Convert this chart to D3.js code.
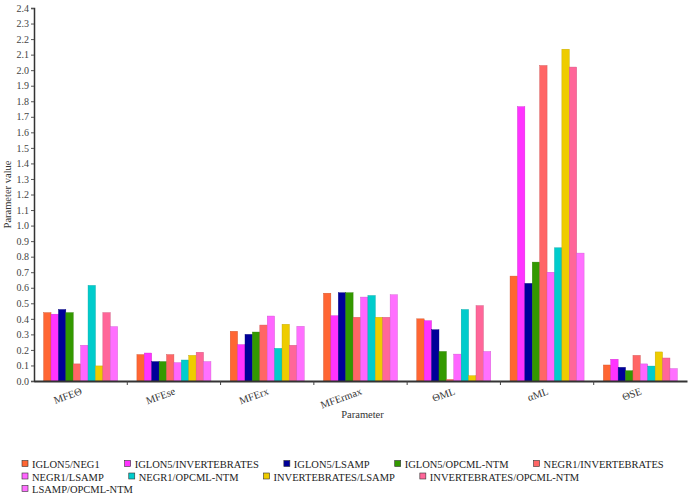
<!DOCTYPE html>
<html><head><meta charset="utf-8">
<script src="https://cdn.jsdelivr.net/npm/d3@7"></script>
<style>
body{margin:0;background:#fff;}
svg text{font-family:"Liberation Serif","Times New Roman",serif !important;}
</style></head>
<body><svg id="chart" width="689" height="498"></svg>
<script>
const categories = ["MFEΘ","MFEse","MFErx","MFErmax","ΘML","αML","ΘSE"];
const seriesNames = ["IGLON5/NEG1","IGLON5/INVERTEBRATES","IGLON5/LSAMP","IGLON5/OPCML-NTM","NEGR1/INVERTEBRATES","NEGR1/LSAMP","NEGR1/OPCML-NTM","INVERTEBRATES/LSAMP","INVERTEBRATES/OPCML-NTM","LSAMP/OPCML-NTM"];
const seriesColors = ["#FF6633","#FF33FF","#000099","#339900","#FF6666","#FF66FF","#00CCCC","#EECC00","#FF6699","#FF70FF"];
// values per series, one per category
const iglon5Neg1      = [0.44, 0.17, 0.32, 0.565, 0.40, 0.675, 0.103];
const iglon5Invert    = [0.43, 0.18, 0.234, 0.42, 0.388, 1.765, 0.14];
const iglon5Lsamp     = [0.46, 0.125, 0.30, 0.568, 0.33, 0.628, 0.088];
const iglon5Opcml     = [0.44, 0.125, 0.315, 0.568, 0.19, 0.765, 0.066];
const negr1Invert     = [0.11, 0.17, 0.36, 0.41, 0.01, 2.03, 0.165];
const negr1Lsamp      = [0.23, 0.118, 0.418, 0.54, 0.173, 0.70, 0.11];
const negr1Opcml      = [0.615, 0.135, 0.21, 0.55, 0.46, 0.857, 0.096];
const invertLsamp     = [0.097, 0.165, 0.365, 0.41, 0.034, 2.135, 0.187];
const invertOpcml     = [0.44, 0.185, 0.23, 0.41, 0.485, 2.02, 0.148];
const lsampOpcml      = [0.35, 0.125, 0.352, 0.555, 0.19, 0.823, 0.08];
const seriesValues = [iglon5Neg1, iglon5Invert, iglon5Lsamp, iglon5Opcml, negr1Invert, negr1Lsamp, negr1Opcml, invertLsamp, invertOpcml, lsampOpcml];
const yTicks = d3.range(0, 25).map(i => i / 10);

const FONT = "'Liberation Serif', 'Times New Roman', serif";
const svg = d3.select("#chart");
const pLeft = 34, pRight = 687, pTop = 8, pBottom = 381;

const x = d3.scaleBand().domain(categories).range([pLeft, pRight]).paddingInner(0).paddingOuter(0);
const xi = d3.scaleBand().domain(seriesNames).range([0, x.bandwidth()]).paddingInner(0).paddingOuter(1.3);
const y = d3.scaleLinear().domain([0, 2.4]).range([pBottom, pTop]);

// bars
seriesNames.forEach((s, si) => {
  svg.append("g").selectAll("rect").data(categories).join("rect")
    .attr("x", c => x(c) + xi(s))
    .attr("y", (c, ci) => y(seriesValues[si][ci]))
    .attr("width", xi.bandwidth())
    .attr("height", (c, ci) => y(0) - y(seriesValues[si][ci]))
    .attr("fill", seriesColors[si])
    .attr("stroke", d3.color(seriesColors[si]).darker(0.6))
    .attr("stroke-width", 0.4);
});

// y axis
const yAxis = svg.append("g").attr("transform", `translate(${pLeft},0)`)
  .call(d3.axisLeft(y).tickValues(yTicks).tickFormat(d3.format(".1f")).tickSize(3).tickPadding(2))
  .attr("font-family", FONT);
yAxis.select(".domain").attr("stroke", "#333").attr("stroke-width", 1.5);
yAxis.selectAll(".tick line").attr("stroke", "#555");
yAxis.selectAll(".tick text").attr("font-size", 10).attr("fill", "#444");

// x axis
const xAxis = svg.append("g").attr("transform", `translate(0,${pBottom})`)
  .call(d3.axisBottom(x).tickSize(0).tickFormat(""));
xAxis.select(".domain").attr("stroke", "#333").attr("stroke-width", 2);
// boundary ticks
svg.append("g").selectAll("line").data(categories.slice(1)).join("line")
  .attr("x1", c => x(c)).attr("x2", c => x(c))
  .attr("y1", pBottom).attr("y2", pBottom + 4)
  .attr("stroke", "#444").attr("stroke-width", 1);
// category labels, slanted
svg.append("g").attr("font-family", FONT).selectAll("text").data(categories).join("text")
  .attr("transform", c => `translate(${x(c) + x.bandwidth() / 2 + 2},${pBottom + 13}) rotate(-20)`)
  .attr("text-anchor", "end")
  .attr("font-size", 10.5)
  .attr("fill", "#333")
  .text(c => c);

// axis titles
svg.append("text").attr("font-family", FONT).attr("x", (pLeft + pRight) / 2 + 2).attr("y", 418)
  .attr("text-anchor", "middle").attr("font-size", 10.5).attr("fill", "#333").text("Parameter");
svg.append("text").attr("font-family", FONT).attr("transform", `translate(11,${(pTop + pBottom) / 2}) rotate(-90)`)
  .attr("text-anchor", "middle").attr("font-size", 10.5).attr("fill", "#333").text("Parameter value");

// legend (flow layout)
const legend = svg.append("g").attr("font-family", FONT);
let lx = 22, ly = 465;
const gap = 25, maxX = 680, rowH = 12.5;
seriesNames.forEach((s, i) => {
  const g = legend.append("g");
  g.append("rect").attr("x", 0).attr("y", -4.5).attr("width", 6).attr("height", 6)
    .attr("fill", seriesColors[i]).attr("stroke", "#333").attr("stroke-width", 0.6);
  const t = g.append("text").attr("x", 10).attr("y", 3).attr("font-size", 10.5).attr("fill", "#222").text(s);
  const w = 10 + t.node().getComputedTextLength();
  if (lx + w > maxX && lx > 22) { lx = 22; ly += rowH; }
  g.attr("transform", `translate(${lx},${ly})`);
  lx += w + gap;
});
</script></body></html>
